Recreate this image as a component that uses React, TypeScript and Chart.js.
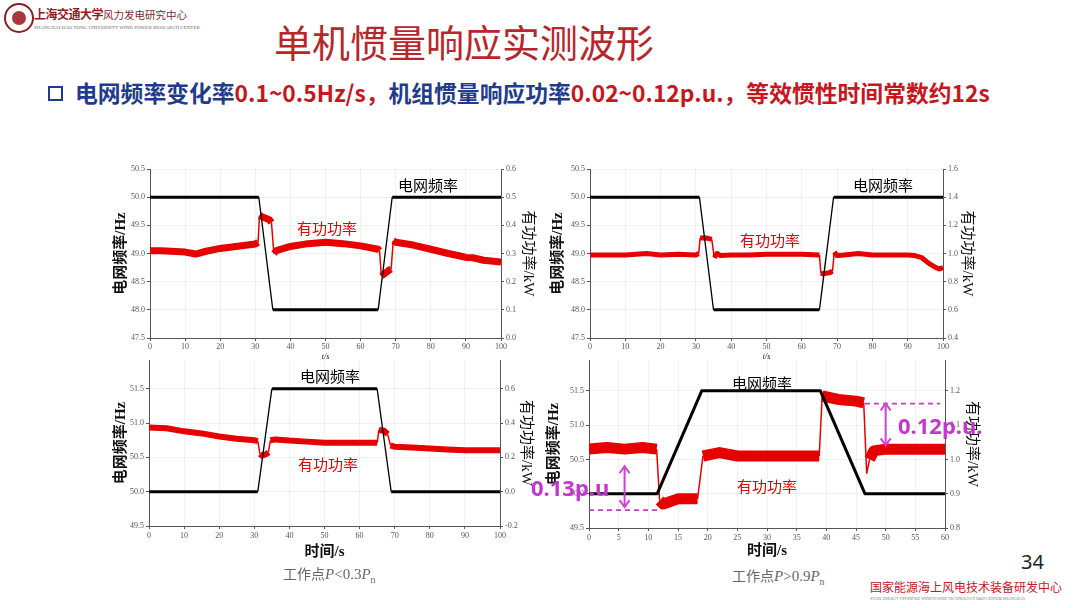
import { useEffect, useRef } from "react";
import { Chart, registerables } from "chart.js";
import type { Plugin } from "chart.js";

Chart.register(...registerables);

// ---------- data ----------
// top-left: frequency drop, low power
const tlFreqTime = [0, 31, 35, 65, 69, 100];
const tlFreqHz = [50.0, 50.0, 48.0, 48.0, 50.0, 50.0];
const tlPowerTime = [0, 3, 6, 10, 13, 16, 20, 25, 30, 30.8, 31.2, 32, 33, 34, 34.6, 35.3, 36, 40, 45, 50, 55, 60, 65, 65.4, 65.9, 67, 68, 68.7, 69.3, 70, 75, 80, 85, 88, 90, 92, 95, 100];
const tlPowerKw = [0.31, 0.31, 0.308, 0.305, 0.298, 0.308, 0.318, 0.326, 0.334, 0.34, 0.435, 0.43, 0.425, 0.42, 0.41, 0.3, 0.31, 0.325, 0.335, 0.34, 0.335, 0.327, 0.315, 0.31, 0.22, 0.23, 0.24, 0.245, 0.345, 0.34, 0.33, 0.315, 0.3, 0.292, 0.286, 0.285, 0.276, 0.27];

// top-right: frequency drop, high power
const trFreqTime = [0, 31, 35, 65, 69, 100];
const trFreqHz = [50.0, 50.0, 48.0, 48.0, 50.0, 50.0];
const trPowerTime = [0, 5, 10, 16, 20, 25, 30, 30.8, 31.2, 33, 34.5, 35.2, 36, 37, 40, 45, 50, 55, 60, 65, 65.4, 66, 68, 68.7, 69.2, 70, 72, 76, 80, 85, 90, 92, 94, 96, 98, 99, 100];
const trPowerKw = [0.99, 0.99, 0.99, 1.0, 0.99, 0.995, 0.99, 1.0, 1.11, 1.11, 1.1, 0.97, 1.0, 0.985, 0.99, 0.99, 0.995, 0.995, 0.995, 0.99, 0.86, 0.855, 0.865, 0.875, 1.01, 0.985, 0.99, 1.0, 0.99, 0.99, 0.99, 0.985, 0.97, 0.93, 0.9, 0.89, 0.9];

// bottom-left: frequency rise, P < 0.3Pn
const blFreqTime = [0, 31, 35, 65, 69, 100];
const blFreqHz = [50.0, 50.0, 51.5, 51.5, 50.0, 50.0];
const blPowerTime = [0, 5, 10, 15, 20, 25, 30, 31, 31.6, 32.2, 33.5, 34, 34.6, 36, 40, 45, 50, 55, 60, 65, 65.5, 67, 68, 68.8, 70, 75, 80, 85, 90, 95, 100];
const blPowerKw = [0.375, 0.37, 0.352, 0.34, 0.322, 0.309, 0.3, 0.295, 0.22, 0.21, 0.22, 0.23, 0.3, 0.305, 0.298, 0.292, 0.285, 0.285, 0.285, 0.285, 0.36, 0.355, 0.335, 0.27, 0.262, 0.258, 0.252, 0.246, 0.242, 0.242, 0.242];

// bottom-right: frequency rise, P > 0.9Pn
const brFreqTime = [0, 11.5, 19, 39, 46.5, 60];
const brFreqHz = [50.0, 50.0, 51.5, 51.5, 50.0, 50.0];
const brPowerTime = [0, 3, 6, 9, 11.4, 11.9, 12.5, 15, 18.3, 19.2, 22, 25, 30, 35, 38.8, 39.3, 42, 45, 46.3, 46.8, 47.3, 48, 50, 55, 60];
const brPowerKw = [1.03, 1.035, 1.03, 1.035, 1.03, 0.88, 0.87, 0.885, 0.885, 1.01, 1.02, 1.01, 1.01, 1.01, 1.01, 1.185, 1.175, 1.17, 1.165, 0.96, 1.0, 1.025, 1.03, 1.03, 1.03];

// p.u. step markers on the bottom-right plot
const brLowLevel = 0.852;
const brLowSpan = [0, 11.6];
const brHighLevel = 1.163;
const brHighSpan = [46.5, 59.2];
const brLowArrow = { t: 6, from: 0.98, to: 0.861 };
const brHighArrow = { t: 50, from: 1.163, to: 1.041 };

// tick labels
const time100Ticks = [0, 10, 20, 30, 40, 50, 60, 70, 80, 90, 100];
const time60Ticks = [0, 5, 10, 15, 20, 25, 30, 35, 40, 45, 50, 55, 60];
const hzTopTicks = [47.5, 48.0, 48.5, 49.0, 49.5, 50.0, 50.5];
const hzBottomTicks = [49.5, 50.0, 50.5, 51.0, 51.5];
const tlKwTicks = [0.0, 0.1, 0.2, 0.3, 0.4, 0.5, 0.6];
const trKwTicks = [0.4, 0.6, 0.8, 1.0, 1.2, 1.4, 1.6];
const blKwTicks = [-0.2, 0.0, 0.2, 0.4, 0.6];
const brKwTicks = [0.8, 0.9, 1.0, 1.1, 1.2];

const RED = "#e60000";
const SERIF_CJK = '"Liberation Serif", "Noto Sans CJK SC", serif';

interface PanelProps {
  left: number; top: number; width: number; height: number;
  padTop: number; leftW: number; rightW: number; bottomH: number;
  xMax: number; xTicks: number[];
  hzMin: number; hzMax: number; hzTicks: number[];
  kwMin: number; kwMax: number; kwTicks: number[];
  freqT: number[]; freqV: number[];
  powT: number[]; powV: number[];
  powWidth: number;
  xTitle: string; xTitleSize: number; xTitleBold: boolean; xTitlePad: number;
  tickPadX: number;
  leftPad: number; rightPad: number;
  extra?: Plugin;
}

// steep parts (the jumps and ramps) are drawn thin, the noisy flat parts thick
const widthBySlope = (thick: number, thin: number) => (ctx: any) => {
  const dx = Math.abs(ctx.p1.x - ctx.p0.x);
  const dy = Math.abs(ctx.p1.y - ctx.p0.y);
  return dy > 3 * dx ? thin : thick;
};

function Panel(p: PanelProps) {
  const ref = useRef<HTMLCanvasElement | null>(null);
  useEffect(() => {
    if (!ref.current) return;
    const tickFont = { family: "Liberation Serif", size: 8 };
    const setTicks = (vals: number[]) => (s: any) => {
      s.ticks = vals.map((v) => ({ value: v }));
    };
    const chart = new Chart(ref.current, {
      type: "line",
      data: {
        datasets: [
          {
            data: p.freqT.map((t, i) => ({ x: t, y: p.freqV[i] })),
            yAxisID: "yL",
            borderColor: "#000",
            borderWidth: 3,
            borderCapStyle: "butt",
            borderJoinStyle: "round",
            pointRadius: 0,
            segment: { borderWidth: widthBySlope(3, 1.3) },
          },
          {
            data: p.powT.map((t, i) => ({ x: t, y: p.powV[i] })),
            yAxisID: "yR",
            borderColor: RED,
            borderWidth: p.powWidth,
            borderCapStyle: "butt",
            borderJoinStyle: "round",
            pointRadius: 0,
            segment: { borderWidth: widthBySlope(p.powWidth, 1.5) },
          },
        ],
      },
      options: {
        animation: false,
        responsive: true,
        maintainAspectRatio: false,
        layout: { padding: { top: p.padTop, left: 0, right: 0, bottom: 0 } },
        plugins: { legend: { display: false }, tooltip: { enabled: false } },
        scales: {
          x: {
            type: "linear",
            min: 0,
            max: p.xMax,
            afterBuildTicks: setTicks(p.xTicks),
            afterFit: (s: any) => { s.height = p.bottomH; },
            grid: { color: "rgba(0,0,0,0.06)", tickColor: "#555", tickLength: 3 },
            border: { color: "#555", width: 1 },
            ticks: { font: tickFont, color: "#555", padding: p.tickPadX, maxRotation: 0, callback: (v: any) => String(v) },
            title: {
              display: true,
              text: p.xTitle,
              color: "#111",
              font: { family: SERIF_CJK, size: p.xTitleSize, weight: p.xTitleBold ? "bold" : "normal", style: p.xTitleBold ? "normal" : "italic" },
              padding: { top: 0, bottom: p.xTitlePad },
            },
          },
          yL: {
            type: "linear",
            position: "left",
            min: p.hzMin,
            max: p.hzMax,
            afterBuildTicks: setTicks(p.hzTicks),
            afterFit: (s: any) => { s.width = p.leftW; },
            grid: { color: "rgba(0,0,0,0.06)", tickColor: "#555", tickLength: 3 },
            border: { color: "#555", width: 1 },
            ticks: { font: tickFont, color: "#555", padding: 2, callback: (v: any) => Number(v).toFixed(1) },
            title: {
              display: true,
              text: "电网频率/Hz",
              color: "#111",
              font: { family: SERIF_CJK, size: 15, weight: "bold" },
              padding: { top: p.leftPad, bottom: 0 },
            },
          },
          yR: {
            type: "linear",
            position: "right",
            min: p.kwMin,
            max: p.kwMax,
            afterBuildTicks: setTicks(p.kwTicks),
            afterFit: (s: any) => { s.width = p.rightW; },
            grid: { drawOnChartArea: false, tickColor: "#555", tickLength: 3 },
            border: { color: "#555", width: 1 },
            ticks: { font: tickFont, color: "#555", padding: 2, callback: (v: any) => Number(v).toFixed(1) },
            title: {
              display: true,
              text: "有功功率/kW",
              color: "#111",
              font: { family: SERIF_CJK, size: 15, weight: "normal" },
              padding: { top: p.rightPad, bottom: 0 },
            },
          },
        },
      },
      plugins: p.extra ? [p.extra] : [],
    } as any);
    return () => chart.destroy();
  }, [p]);
  return (
    <div style={{ position: "absolute", left: p.left, top: p.top, width: p.width, height: p.height }}>
      <canvas ref={ref} />
    </div>
  );
}

const arrowHead = (ctx: CanvasRenderingContext2D, x: number, y: number, dir: number) => {
  ctx.beginPath();
  ctx.moveTo(x - 5, y + dir * 7);
  ctx.lineTo(x, y);
  ctx.lineTo(x + 5, y + dir * 7);
  ctx.stroke();
};

const puMarks: Plugin = {
  id: "puMarks",
  afterDatasetsDraw(chart: any) {
    const { ctx, scales } = chart;
    const x = scales.x;
    const y = scales.yR;
    ctx.save();
    ctx.strokeStyle = "#c43cc4";
    ctx.lineWidth = 1.8;
    ctx.setLineDash([5, 4]);
    ctx.beginPath();
    ctx.moveTo(x.getPixelForValue(brLowSpan[0]), y.getPixelForValue(brLowLevel));
    ctx.lineTo(x.getPixelForValue(brLowSpan[1]), y.getPixelForValue(brLowLevel));
    ctx.moveTo(x.getPixelForValue(brHighSpan[0]), y.getPixelForValue(brHighLevel));
    ctx.lineTo(x.getPixelForValue(brHighSpan[1]), y.getPixelForValue(brHighLevel));
    ctx.stroke();
    ctx.setLineDash([]);
    ctx.strokeStyle = "#d040d8";
    ctx.lineWidth = 2;
    for (const a of [brLowArrow, brHighArrow]) {
      const ax = x.getPixelForValue(a.t);
      const y0 = y.getPixelForValue(a.from);
      const y1 = y.getPixelForValue(a.to);
      ctx.beginPath();
      ctx.moveTo(ax, y0);
      ctx.lineTo(ax, y1);
      ctx.stroke();
      arrowHead(ctx, ax, y0, 1);
      arrowHead(ctx, ax, y1, -1);
    }
    ctx.restore();
  },
};

const tlProps: PanelProps = {
  left: 95, top: 160, width: 450, height: 205,
  padTop: 9, leftW: 55, rightW: 44, bottomH: 27,
  xMax: 100, xTicks: time100Ticks,
  hzMin: 47.5, hzMax: 50.5, hzTicks: hzTopTicks,
  kwMin: 0, kwMax: 0.6, kwTicks: tlKwTicks,
  freqT: tlFreqTime, freqV: tlFreqHz, powT: tlPowerTime, powV: tlPowerKw,
  powWidth: 7,
  xTitle: "t/s", xTitleSize: 8, xTitleBold: false, xTitlePad: 3, tickPadX: 1,
  leftPad: 17, rightPad: 8,
};
const trProps: PanelProps = {
  left: 535, top: 160, width: 450, height: 205,
  padTop: 9, leftW: 55, rightW: 42, bottomH: 27,
  xMax: 100, xTicks: time100Ticks,
  hzMin: 47.5, hzMax: 50.5, hzTicks: hzTopTicks,
  kwMin: 0.4, kwMax: 1.6, kwTicks: trKwTicks,
  freqT: trFreqTime, freqV: trFreqHz, powT: trPowerTime, powV: trPowerKw,
  powWidth: 5,
  xTitle: "t/s", xTitleSize: 8, xTitleBold: false, xTitlePad: 3, tickPadX: 1,
  leftPad: 14, rightPad: 9,
};
const blProps: PanelProps = {
  left: 95, top: 352, width: 450, height: 212,
  padTop: 8, leftW: 54, rightW: 45, bottomH: 38,
  xMax: 100, xTicks: time100Ticks,
  hzMin: 49.5, hzMax: 51.92, hzTicks: hzBottomTicks,
  kwMin: -0.2, kwMax: 0.768, kwTicks: blKwTicks,
  freqT: blFreqTime, freqV: blFreqHz, powT: blPowerTime, powV: blPowerKw,
  powWidth: 6,
  xTitle: "时间/s", xTitleSize: 15, xTitleBold: true, xTitlePad: 3, tickPadX: 2,
  leftPad: 17, rightPad: 10,
};
const brProps: PanelProps = {
  left: 535, top: 352, width: 450, height: 212,
  padTop: 8, leftW: 54, rightW: 40, bottomH: 36,
  xMax: 60, xTicks: time60Ticks,
  hzMin: 49.5, hzMax: 51.95, hzTicks: hzBottomTicks,
  kwMin: 0.8, kwMax: 1.29, kwTicks: brKwTicks,
  freqT: brFreqTime, freqV: brFreqHz, powT: brPowerTime, powV: brPowerKw,
  powWidth: 11,
  xTitle: "时间/s", xTitleSize: 15, xTitleBold: true, xTitlePad: 4, tickPadX: 2,
  leftPad: 10, rightPad: 4,
  extra: puMarks,
};

const abs = (left: number, top: number, extra: React.CSSProperties = {}): React.CSSProperties => ({
  position: "absolute", left, top, whiteSpace: "nowrap", ...extra,
});

const BLUE = "#1f3b8c";
const DARKRED = "#c8161d";

export default function App() {
  return (
    <div style={{ position: "absolute", left: 0, top: 0, width: 1080, height: 608, overflow: "hidden", background: "#fff", fontFamily: '"Noto Sans CJK SC", sans-serif' }}>
      {/* logo */}
      <div style={abs(4, 3, { width: 26, height: 26, borderRadius: "50%", border: "2px solid #8e1c22" })}>
        <div style={{ position: "absolute", left: 6, top: 6, width: 14, height: 14, borderRadius: "50%", background: "#a8383c" }} />
      </div>
      <div style={abs(34, 6, { fontSize: 12, color: "#8e1c22", fontWeight: 700, letterSpacing: -0.5, lineHeight: "16px" })}>
        上海交通大学<span style={{ fontWeight: 400, fontSize: 10.5, letterSpacing: 0, color: "#7a2b2e" }}>风力发电研究中心</span>
      </div>
      <div style={abs(34, 25, { fontSize: 5, color: "#666", fontFamily: "Liberation Serif", lineHeight: "6px" })}>
        SHANGHAI JIAO TONG UNIVERSITY WIND POWER RESEARCH CENTER
      </div>

      {/* title */}
      <div style={abs(274, 16, { fontSize: 38, color: "#b8262c", lineHeight: "50px" })}>单机惯量响应实测波形</div>

      {/* subtitle */}
      <div style={abs(48, 86, { width: 11, height: 11, border: `2.5px solid ${BLUE}` })} />
      <div style={abs(75, 77, { fontSize: 22.8, fontWeight: 700, lineHeight: "32px" })}>
        <span style={{ color: BLUE }}>电网频率变化率</span>
        <span style={{ color: DARKRED }}>0.1~0.5Hz/s，</span>
        <span style={{ color: BLUE }}>机组惯量响应功率</span>
        <span style={{ color: DARKRED }}>0.02~0.12p.u.，等效惯性时间常数约12s</span>
      </div>

      <Panel {...tlProps} />
      <Panel {...trProps} />
      <Panel {...blProps} />
      <Panel {...brProps} />

      {/* in-plot labels */}
      <div style={abs(398, 175, { fontSize: 15, color: "#000", lineHeight: "20px" })}>电网频率</div>
      <div style={abs(297, 218, { fontSize: 15, color: RED, lineHeight: "20px" })}>有功功率</div>
      <div style={abs(853, 175, { fontSize: 15, color: "#000", lineHeight: "20px" })}>电网频率</div>
      <div style={abs(740, 230, { fontSize: 15, color: RED, lineHeight: "20px" })}>有功功率</div>
      <div style={abs(300, 366, { fontSize: 15, color: "#000", lineHeight: "20px" })}>电网频率</div>
      <div style={abs(298, 454, { fontSize: 15, color: RED, lineHeight: "20px" })}>有功功率</div>
      <div style={abs(732, 373, { fontSize: 15, color: "#000", lineHeight: "20px" })}>电网频率</div>
      <div style={abs(737, 476, { fontSize: 15, color: RED, lineHeight: "20px" })}>有功功率</div>

      {/* p.u. annotations */}
      <div style={abs(531, 474, { fontSize: 22, fontWeight: 700, color: "#c436cf", fontFamily: "Noto Sans", lineHeight: "26px" })}>0.13p.u</div>
      <div style={abs(898, 412, { fontSize: 22, fontWeight: 700, color: "#c436cf", fontFamily: "Noto Sans", lineHeight: "26px" })}>0.12p.u.</div>

      {/* operating points */}
      <div style={abs(283, 563, { fontSize: 14, color: "#666", lineHeight: "20px" })}>
        工作点<span style={{ fontFamily: "Liberation Serif", fontStyle: "italic", fontSize: 15 }}>P</span>
        <span style={{ fontFamily: "Liberation Serif", fontSize: 15 }}>&lt;0.3</span>
        <span style={{ fontFamily: "Liberation Serif", fontStyle: "italic", fontSize: 15 }}>P</span>
        <sub style={{ fontFamily: "Liberation Serif", fontSize: 10 }}>n</sub>
      </div>
      <div style={abs(732, 565, { fontSize: 14, color: "#666", lineHeight: "20px" })}>
        工作点<span style={{ fontFamily: "Liberation Serif", fontStyle: "italic", fontSize: 15 }}>P</span>
        <span style={{ fontFamily: "Liberation Serif", fontSize: 15 }}>&gt;0.9</span>
        <span style={{ fontFamily: "Liberation Serif", fontStyle: "italic", fontSize: 15 }}>P</span>
        <sub style={{ fontFamily: "Liberation Serif", fontSize: 10 }}>n</sub>
      </div>

      {/* footer */}
      <div style={abs(1021, 549, { fontSize: 20, color: "#222", fontFamily: "Noto Sans", lineHeight: "26px" })}>34</div>
      <div style={abs(870, 579, { fontSize: 12, color: "#c8161d", lineHeight: "16px" })}>国家能源海上风电技术装备研发中心</div>
      <div style={abs(870, 596, { fontSize: 4, color: "#777", fontFamily: "Liberation Serif" })}>
        STATE ENERGY OFFSHORE WIND POWER TECHNOLOGY R&amp;D CENTER(SHANGHAI)
      </div>
    </div>
  );
}
